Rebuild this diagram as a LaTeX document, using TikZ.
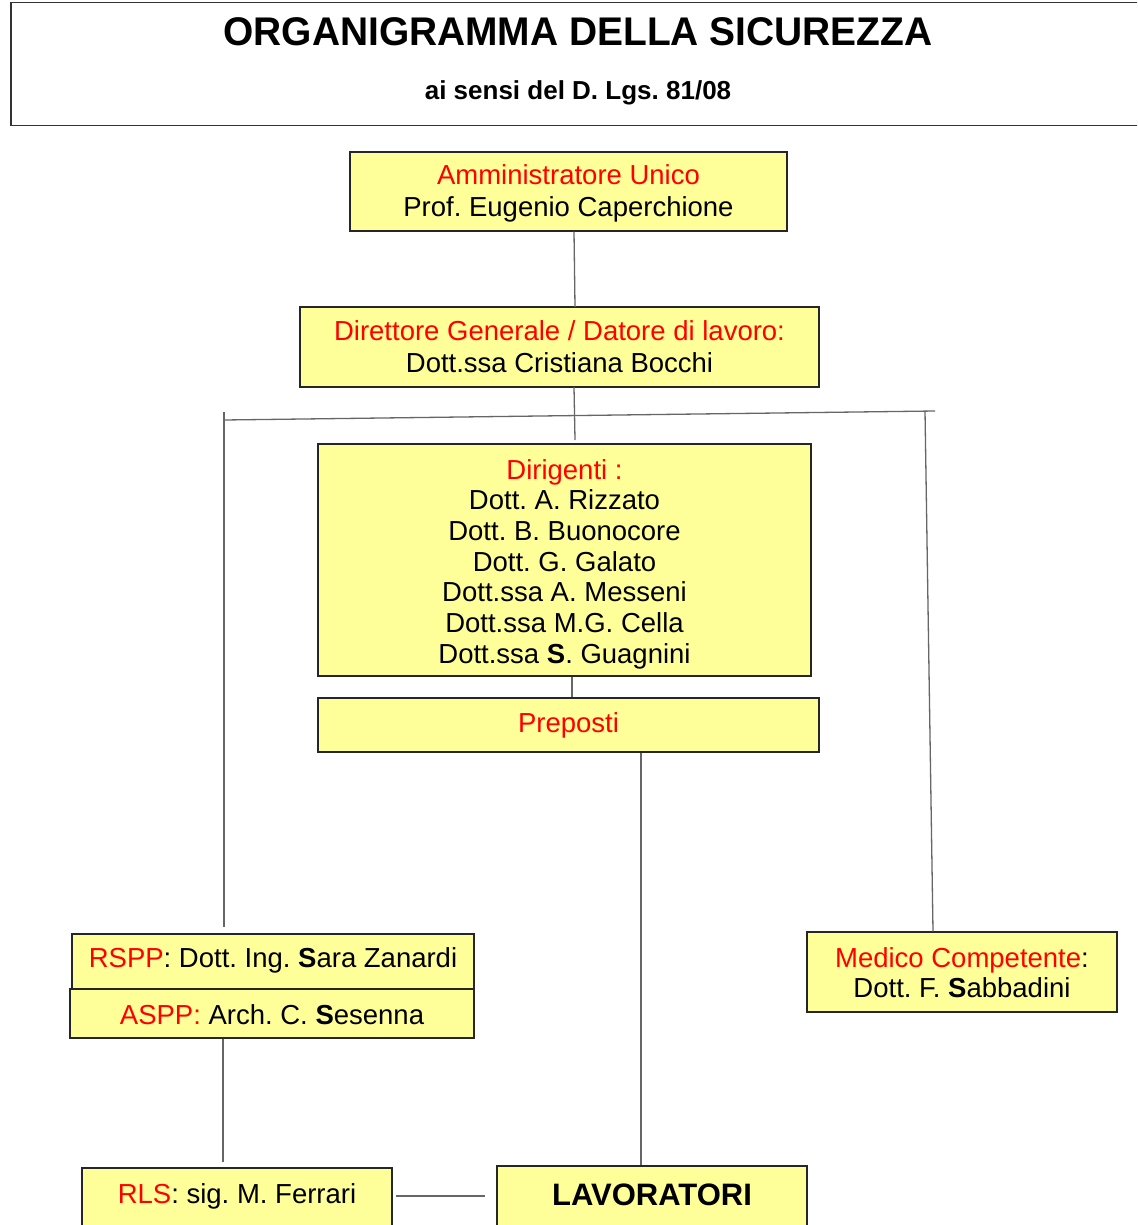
\documentclass[tikz,border=0pt]{standalone}
\usepackage{fontspec}
\setmainfont{Liberation Sans}
\definecolor{boxyellow}{HTML}{FFFF99}
\definecolor{txtred}{HTML}{FF0000}
\newcommand\redtxt[1]{\textcolor{txtred}{#1}}
\frenchspacing
\begin{document}
\begin{tikzpicture}[x=1pt,y=-1pt,
  box/.style={draw=black!85, line width=1.4pt, fill=boxyellow, inner sep=0pt},
  plain/.style={inner sep=0pt, align=center, font=\fontsize{27.5}{32}\selectfont},
  conn/.style={draw=black!60, line width=1.3pt}]
\clip (0,0) rectangle (1137,1225);
\fill[white] (0,0) rectangle (1137,1225);
% title
\node[draw=black!80, line width=1.5pt, minimum width=1140pt, minimum height=123pt, anchor=north west, inner sep=0pt] (titlebox) at (10,2) {};
\node[plain, font=\fontsize{40}{48}\selectfont\bfseries] (title) at (578,32) {\scalebox{0.973}[1]{ORGANIGRAMMA DELLA SICUREZZA}};
\node[plain, font=\fontsize{26}{31}\selectfont\bfseries] (subtitle) at (578,93) {ai sensi del D. Lgs. 81/08};
% boxes
\node[box, minimum width=437pt, minimum height=79pt] (amm) at (568.5,191.5) {};
\node[box, minimum width=519pt, minimum height=80pt] (dir) at (559.5,347) {};
\node[box, minimum width=493pt, minimum height=232pt] (dirig) at (564.5,560) {};
\node[box, minimum width=501pt, minimum height=54pt] (prep) at (568.5,725) {};
\node[box, minimum width=402pt, minimum height=55pt] (rspp) at (273,961.5) {};
\node[box, minimum width=404pt, minimum height=49pt] (aspp) at (272,1013.5) {};
\node[box, minimum width=310pt, minimum height=80pt] (med) at (962,972) {};
\node[box, minimum width=310pt, minimum height=92pt] (rls) at (237,1214) {};
\node[box, minimum width=310pt, minimum height=94pt] (lav) at (652,1213) {};
% texts
\node[plain] (ammtxt) at (568.5,193.5) {\redtxt{Amministratore Unico}\\Prof. Eugenio Caperchione};
\node[plain] (dirtxt) at (559.5,347) {\redtxt{Direttore Generale / Datore di lavoro:}\\Dott.ssa Cristiana Bocchi};
\node[plain, font=\fontsize{27.5}{30.7}\selectfont] (dirigtxt) at (564.5,564) {\redtxt{Dirigenti :}\\Dott. A. Rizzato\\Dott. B. Buonocore\\Dott. G. Galato\\Dott.ssa A. Messeni\\Dott.ssa M.G. Cella\\Dott.ssa \textbf{S}. Guagnini};
\node[plain] (preptxt) at (568.5,725) {\redtxt{Preposti}};
\node[plain] (rspptxt) at (273,960.5) {\redtxt{RSPP}: Dott. Ing. \textbf{S}ara Zanardi};
\node[plain] (aspptxt) at (272,1014.5) {\redtxt{ASPP:} Arch. C. \textbf{S}esenna};
\node[plain, font=\fontsize{27.5}{30}\selectfont] (medtxt) at (962,973) {\redtxt{Medico Competente}:\\Dott. F. \textbf{S}abbadini};
\node[plain] (rlstxt) at (237,1196) {\redtxt{RLS}: sig. M. Ferrari};
\node[plain, font=\fontsize{31}{36}\selectfont\bfseries] (lavtxt) at (652,1195) {LAVORATORI};
% connector coordinates
\coordinate (busL) at (224,420);
\coordinate (busR) at (935,411);
\coordinate (busLtop) at (224,412);
\coordinate (rsppIn) at (224,927);
\coordinate (busRtop) at (925,411);
\coordinate (dirOut) at (574,387);
\coordinate (dirigIn) at (575,440);
\coordinate (rlsEnd) at (396,1196);
\coordinate (lavEnd) at (485,1196);
% connectors
\draw[conn] (amm.south -| 574,0) -- (575,307);
\draw[conn] (busL) -- (busR);
\draw[conn] (busLtop) -- (rsppIn);
\draw[conn] (busRtop) -- (med.north -| 933,0);
\draw[conn] (dirOut) -- (dirigIn);
\draw[conn] (dirig.south -| 572,0) -- (prep.north -| 572,0);
\draw[conn] (prep.south -| 641,0) -- (lav.north -| 641,0);
\draw[conn] (aspp.south -| 223,0) -- (223,1162);
\draw[conn] (rlsEnd) -- (lavEnd);
\end{tikzpicture}
\end{document}
